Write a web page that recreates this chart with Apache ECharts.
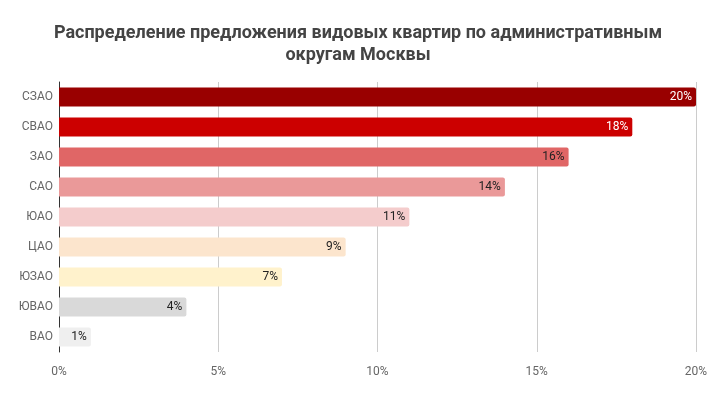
<!DOCTYPE html>
<html><head><meta charset="utf-8">
<script src="https://cdn.jsdelivr.net/npm/echarts@6/dist/echarts.min.js"></script>
<style>html,body{margin:0;padding:0;background:#fff}#c{width:716px;height:397px}</style>
</head><body><div id="c"></div>
<script>
const categories = ['СЗАО','СВАО','ЗАО','САО','ЮАО','ЦАО','ЮЗАО','ЮВАО','ВАО'];
const values = [20,18,16,14,11,9,7,4,1];
const colors = ['#990000','#cc0000','#e06666','#ea9999','#f4cccc','#fce5cd','#fff2cc','#d9d9d9','#efefef'];
const labelColors = ['#ffffff','#ffffff','#222222','#222222','#222222','#222222','#222222','#222222','#222222'];
const xTicks = [0,5,10,15,20];

const chart = echarts.init(document.getElementById('c'), null, {renderer:'canvas'});
chart.setOption({
  animation:false,
  title:{
    text:'Распределение предложения видовых квартир по административным\nокругам Москвы',
    left:'center', top:17,
    textStyle:{fontFamily:'Roboto',fontSize:18,fontWeight:'bold',color:'#444444',lineHeight:22}
  },
  grid:{left:59,right:20,top:82,bottom:45,containLabel:false},
  xAxis:{
    type:'value',min:0,max:20,interval:5,
    axisLine:{show:false},axisTick:{show:false},
    splitLine:{lineStyle:{color:'#cccccc',width:1}},
    axisLabel:{fontFamily:'Roboto',fontSize:12,color:'#666666',margin:14,
      formatter:v=>xTicks.includes(v)?v+'%':''}
  },
  yAxis:{
    type:'category',data:categories,inverse:true,
    axisLine:{show:true,onZero:false,lineStyle:{color:'#333333',width:1}},
    axisTick:{show:false},
    axisLabel:{fontFamily:'Roboto',fontSize:12,color:'#666666',margin:6}
  },
  series:[{
    type:'bar',barWidth:19,
    data:values.map((v,i)=>({value:v,itemStyle:{color:colors[i],borderRadius:[0,2,2,0]},
      label:{color:labelColors[i]}})),
    label:{show:true,position:'insideRight',distance:4,fontFamily:'Roboto',fontSize:12,formatter:p=>p.value+'%'}
  }]
});
</script></body></html>
